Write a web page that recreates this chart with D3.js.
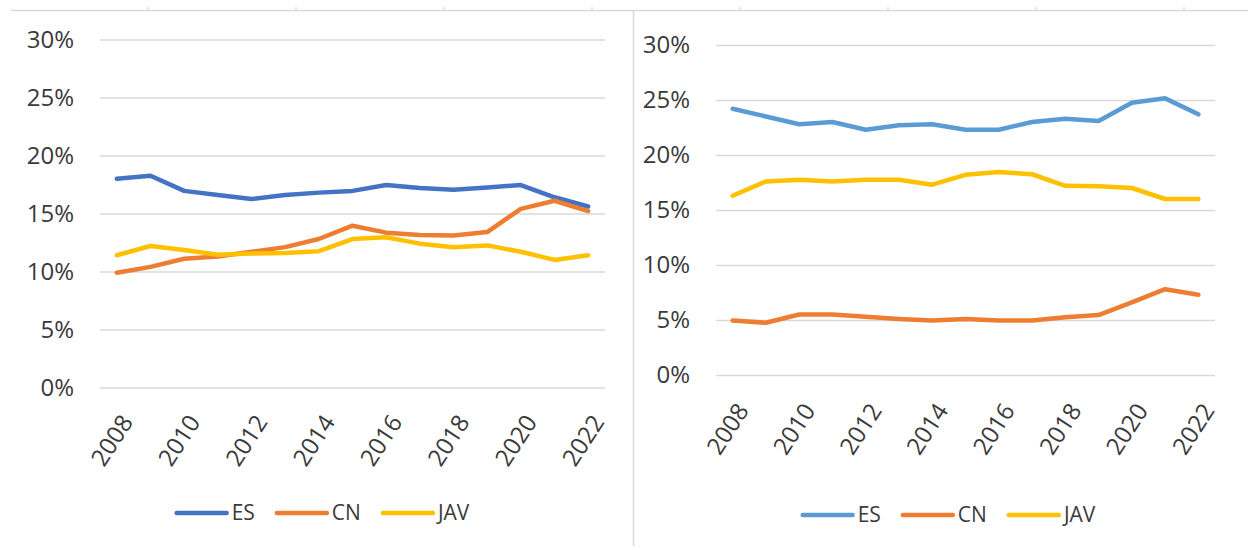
<!DOCTYPE html>
<html>
<head>
<meta charset="utf-8">
<script src="https://cdn.jsdelivr.net/npm/d3@7"></script>
<style>
  body { margin: 0; background: #fff; }
  text { font-family: "Open Sans", sans-serif; fill: #3a3a3a; }
</style>
</head>
<body>
<div id="chart"></div>
<script>
// categories and ticks
var years = ["2008", "2009", "2010", "2011", "2012", "2013", "2014", "2015",
             "2016", "2017", "2018", "2019", "2020", "2021", "2022"];
var shownYears = ["2008", "2010", "2012", "2014", "2016", "2018", "2020", "2022"];
var yTicks = [0, 5, 10, 15, 20, 25, 30];
var seriesNames = ["ES", "CN", "JAV"];

// left chart values (%)
var leftES  = [18.0, 18.25, 16.95, 16.6, 16.25, 16.6, 16.8, 16.95, 17.45, 17.2, 17.05, 17.25, 17.45, 16.4, 15.6];
var leftCN  = [9.9, 10.4, 11.1, 11.3, 11.7, 12.1, 12.8, 13.95, 13.35, 13.15, 13.1, 13.4, 15.4, 16.1, 15.2];
var leftJAV = [11.4, 12.2, 11.85, 11.45, 11.55, 11.6, 11.75, 12.8, 12.95, 12.4, 12.1, 12.25, 11.7, 11.0, 11.4];

// right chart values (%)
var rightES  = [24.2, 23.5, 22.8, 23.0, 22.3, 22.7, 22.8, 22.3, 22.3, 23.0, 23.3, 23.1, 24.75, 25.15, 23.7];
var rightCN  = [4.95, 4.75, 5.5, 5.5, 5.3, 5.1, 4.95, 5.1, 4.95, 4.95, 5.25, 5.45, 6.6, 7.8, 7.3];
var rightJAV = [16.3, 17.6, 17.75, 17.6, 17.75, 17.75, 17.3, 18.2, 18.45, 18.25, 17.2, 17.15, 17.0, 16.0, 16.0];

var leftColors  = ["#4472C4", "#ED7D31", "#FFC000"];
var rightColors = ["#5B9BD5", "#ED7D31", "#FFC000"];

var svg = d3.select("#chart")
  .append("svg")
  .attr("width", 1248)
  .attr("height", 550);

svg.append("rect").attr("width", 1248).attr("height", 550).attr("fill", "#fff");

// sheet borders around the two chart objects
svg.append("line")
  .attr("x1", 11).attr("x2", 1248).attr("y1", 10.5).attr("y2", 10.5)
  .attr("stroke", "#d9d9d9").attr("stroke-width", 1.5);
d3.range(148, 1248, 148).forEach(function(x) {
  svg.append("line")
    .attr("x1", x).attr("x2", x).attr("y1", 7).attr("y2", 10.5)
    .attr("stroke", "#cfcfcf").attr("stroke-width", 1);
});
svg.append("line")
  .attr("x1", 633.5).attr("x2", 633.5).attr("y1", 10.5).attr("y2", 546)
  .attr("stroke", "#d9d9d9").attr("stroke-width", 1.5);

function drawPanel(p) {
  var width = p.right - p.left;
  var height = p.bottom - p.top;

  var g = svg.append("g")
    .attr("transform", `translate(${p.left}, ${p.top})`);

  var x = d3.scaleBand().domain(years).range([0, width]).padding(0);
  var y = d3.scaleLinear().domain([0, 30]).range([height, 0]);

  // y axis with gridlines
  var yAxis = g.append("g")
    .call(d3.axisLeft(y)
      .tickValues(yTicks)
      .tickFormat(d => d + "%")
      .tickSize(-width)
      .tickPadding(26));
  yAxis.select(".domain").remove();
  yAxis.selectAll("line").attr("stroke", "#d9d9d9").attr("stroke-width", 1.3);
  yAxis.selectAll("text")
    .attr("fill", "#3a3a3a")
    .style("font-size", "24px")
    .style("font-family", "'Open Sans', sans-serif");

  // x axis, rotated labels
  var xAxis = g.append("g")
    .attr("transform", `translate(0, ${height})`)
    .call(d3.axisBottom(x).tickValues(shownYears).tickSize(0));
  xAxis.select(".domain").remove();
  xAxis.selectAll("text")
    .attr("fill", "#3a3a3a")
    .style("font-size", "24px")
    .style("font-family", "'Open Sans', sans-serif")
    .style("text-anchor", "end")
    .attr("x", 0)
    .attr("y", 0)
    .attr("dy", "0.35em")
    .attr("transform", `translate(${p.labelDx}, ${p.labelDy}) rotate(-57)`);

  var line = d3.line()
    .x((d, i) => x(years[i]) + x.bandwidth() / 2)
    .y(d => y(d));

  p.series.forEach(function(values, i) {
    g.append("path")
      .datum(values)
      .attr("fill", "none")
      .attr("stroke", p.colors[i])
      .attr("stroke-width", 4.5)
      .attr("stroke-linejoin", "round")
      .attr("stroke-linecap", "round")
      .attr("d", line);
  });

  // legend
  var legend = svg.append("g");
  var cursor = 0;
  seriesNames.forEach(function(name, i) {
    legend.append("line")
      .attr("x1", cursor + 2).attr("x2", cursor + 52)
      .attr("y1", 0).attr("y2", 0)
      .attr("stroke", p.colors[i])
      .attr("stroke-width", 4.5)
      .attr("stroke-linecap", "round");
    var t = legend.append("text")
      .attr("x", cursor + 57)
      .attr("y", 0)
      .attr("dy", "0.35em")
      .style("font-size", "21px")
      .text(name);
    cursor += 57 + t.node().getComputedTextLength() + 20;
  });
  cursor -= 20;
  legend.attr("transform", `translate(${p.legendCenter - cursor / 2}, ${p.legendY})`);
}

drawPanel({
  left: 100, right: 605, top: 39.5, bottom: 387.5,
  series: [leftES, leftCN, leftJAV], colors: leftColors,
  labelDx: 10, labelDy: 30,
  legendCenter: 322, legendY: 513
});

drawPanel({
  left: 716, right: 1215, top: 45, bottom: 375,
  series: [rightES, rightCN, rightJAV], colors: rightColors,
  labelDx: 10, labelDy: 31,
  legendCenter: 948, legendY: 515
});
</script>
</body>
</html>
